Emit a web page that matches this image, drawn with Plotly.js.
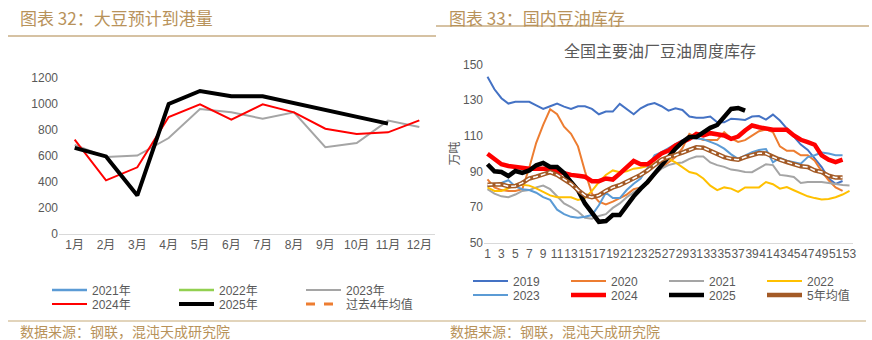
<!DOCTYPE html>
<html>
<head>
<meta charset="utf-8">
<script src="https://cdn.plot.ly/plotly-3.0.1.min.js"></script>
<style>html,body{margin:0;padding:0;background:#fff;}#chart{width:872px;height:340px;}</style>
</head>
<body>
<div id="chart"></div>
<script>
// ---- Left chart: 大豆预计到港量 (万吨) ----
const months = ['1月','2月','3月','4月','5月','6月','7月','8月','9月','10月','11月','12月'];
const arr2021L = [null,null,null,null,null,null,null,null,null,null,null,null];
const arr2022L = [null,null,null,null,null,null,null,null,null,null,null,null];
const arr2023L = [685,592,603,738,961,936,887,936,667,700,872,823];
const arr2024L = [726,413,513,900,997,879,997,936,810,769,782,874];
const arr2025L = [662,597,297,1000,1100,1059,1059,1008,956,905,849,null];
const avg4L   = [null,null,null,null,null,null,null,null,null,null,null,null];

// ---- Right chart: 全国主要油厂豆油周度库存 (万吨) ----
const weeks = [1,2,3,4,5,6,7,8,9,10,11,12,13,14,15,16,17,18,19,20,21,22,23,24,25,26,27,28,29,30,31,32,33,34,35,36,37,38,39,40,41,42,43,44,45,46,47,48,49,50,51,52,53];
const s2019 = [143,136,131,128,129,129,129,127,125,126.5,128,126.3,125,126.5,126.5,125,122,123.5,123.5,127.8,125,122,125.3,127.3,128.3,126.5,124,125.3,124.4,120.7,120,120,120.7,117.5,117.5,119.5,119.2,118.8,120.7,121,119,121.8,118.5,114,110,105,102,97,92.4,86,83,84.6];
const s2020 = [85.5,81,79.5,79,79,80,92,106,116,124.8,122,115,111,104,90,77.5,73,71.5,73,75,77,80,81,83,88,92,95,98,103,111,109,107.5,107.5,107.5,112,108.5,106.5,107.5,110,112.5,113.5,112,104,101.5,101.5,99,99,96,90,85,81,79];
const s2021 = [80,77.5,76,75.5,77,79,79.5,81,82,80,76,72,70,67.5,64,63.5,65,66,69.5,72,75.5,78,81,85,88.5,91.5,93.5,94.5,95,97,98.3,98.3,95,93.5,92.5,91,90.5,89.6,89.5,92,94,93.5,88,87.5,86.8,83.5,84,84,84,83.5,82.7,82.3,82.1];
const s2022 = [81,79,79,80.5,82.5,82.5,82,80.5,78.5,76.5,75.5,75.5,75.5,74,75,79,84,88,90.5,89.5,90,91.5,92,93,94.5,97,97,95,92.5,89.6,88.7,86,82,79.5,81,80.3,78.5,81,81,81,84,82.8,80.3,81.2,79.4,77.5,76,75,74.2,74.5,75.5,77,79];
const s2023 = [81.6,82.5,83.5,85,81.5,80,79.5,78,75.5,74,68.5,66,64.5,64,64.5,65.5,71,78,75,75,79.5,83,86,92,99,100.8,103,105.4,107.5,109,108.5,108,106.5,105,102.7,99.5,97,99,100.8,102,102.5,95,97.5,96,95,94.3,98,99,100.5,100,99,99];
const s2024 = [99.9,97,94,93,92.5,91.5,91.5,91.5,91.5,91.5,90,88.7,88,87.5,87,84.5,84.5,86,85.4,88.7,92.4,95.8,94,94,97,100,101.7,104.5,106.4,108.2,111,110.1,111.4,111,110.1,108.2,109.5,112.9,115.7,114.7,113.8,113.3,113.3,113.3,110.1,107.7,106.4,104.9,98.9,96.5,95.2,96.5];
const s2025 = [94,90,89.6,87.4,90.2,89.1,90.5,93.4,94.7,92.4,92.4,89.1,84,79.4,72,66.4,61.7,62.1,65.5,65.5,71,76,80.3,84,88.7,93.4,98.4,102.7,106.4,109.2,109.2,112,114.4,116,121,125,125.5,124];
const avg5 = [82.5,82.7,82.7,81.6,81.8,83.5,86,87,88.5,89.6,88,85.5,83,79.5,76.5,75.5,76.5,79,81,82.2,84,86,88,90.5,93.5,96.5,98,99,100.5,102,103.5,103.2,101.5,99.5,98,97,96.5,98,98.9,100.2,100,98,96.5,95.2,94,92.8,92.4,90.5,89.6,87.5,86.5,86.5];

const numFont = 'Liberation Sans, Arial, Noto Sans CJK SC, sans-serif';
const cjkFont = 'Noto Sans CJK SC, sans-serif';
const W = 872, H = 340;
const px = v => v / W;
const py = v => 1 - v / H;

function lineL(name, y, color, width, legend, dash) {
  return {type:'scatter', mode:'lines', name:name, x:months, y:y, xaxis:'x', yaxis:'y',
    line:{color:color, width:width, dash:dash||'solid'}, legend:legend, connectgaps:false, hoverinfo:'x+y+name'};
}
function lineR(name, y, color, width, legend) {
  return {type:'scatter', mode:'lines', name:name, x:weeks.slice(0, y.length), y:y, xaxis:'x2', yaxis:'y2',
    line:{color:color, width:width}, legend:legend, hoverinfo:'x+y+name'};
}

const traces = [
  lineL('2021年', arr2021L, '#5B9BD5', 2.5, 'legend'),
  lineL('2022年', arr2022L, '#92D050', 2.5, 'legend'),
  lineL('2023年', arr2023L, '#A5A5A5', 2, 'legend'),
  lineL('2024年', arr2024L, '#FF0000', 2, 'legend2'),
  lineL('2025年', arr2025L, '#000000', 4, 'legend2'),
  lineL('过去4年均值', avg4L, '#ED7D31', 3, 'legend2', 'dash'),

  lineR('2019', s2019, '#4472C4', 2, 'legend3'),
  lineR('2020', s2020, '#ED7D31', 2, 'legend3'),
  lineR('2021', s2021, '#A5A5A5', 2, 'legend3'),
  lineR('2022', s2022, '#FFC000', 2, 'legend3'),
  lineR('2023', s2023, '#5B9BD5', 2, 'legend4'),
  lineR('2024', s2024, '#FF0000', 4.5, 'legend4'),
  lineR('2025', s2025, '#000000', 4.5, 'legend4'),
  lineR('5年均值', avg5, '#A35A26', 4.5, 'legend4'),
  {type:'scatter', mode:'lines', x:weeks.slice(0, avg5.length), y:avg5, xaxis:'x2', yaxis:'y2',
   line:{color:'#FFFFFF', width:1.5, dash:'5px,3px'}, showlegend:false, hoverinfo:'skip'}
];

const legendBase = {orientation:'h', xanchor:'left', yanchor:'middle', bgcolor:'rgba(0,0,0,0)',
  font:{family:numFont, size:12, color:'#595959'}, itemwidth:35, entrywidthmode:'pixels', traceorder:'normal',
  itemclick:false, itemdoubleclick:false, tracegroupgap:0};

const layout = {
  width:W, height:H, margin:{l:0, r:0, t:0, b:0, autoexpand:false},
  paper_bgcolor:'#FFFFFF', plot_bgcolor:'#FFFFFF',
  font:{family:numFont, color:'#595959', size:12},
  xaxis:{domain:[px(59), px(435)], anchor:'y', type:'category', range:[-0.5, 11.5],
    showline:true, linecolor:'#D9D9D9', linewidth:1, showgrid:false, zeroline:false, ticks:'',
    tickfont:{family:numFont, size:12, color:'#595959'}, fixedrange:true, automargin:false},
  yaxis:{domain:[py(234), py(78)], anchor:'x', range:[0, 1200], dtick:200, tick0:0,
    showline:false, showgrid:false, zeroline:false, ticks:'',
    tickfont:{family:numFont, size:12, color:'#595959'}, fixedrange:true, automargin:false},
  xaxis2:{domain:[px(484), px(853)], anchor:'y2', range:[0.5, 53.5], tick0:1, dtick:2, tickangle:0,
    showline:true, linecolor:'#D9D9D9', linewidth:1, showgrid:false, zeroline:false, ticks:'',
    tickfont:{family:numFont, size:12, color:'#595959'}, fixedrange:true, automargin:false},
  yaxis2:{domain:[py(242.7), py(64.3)], anchor:'x2', range:[50, 150], dtick:20, tick0:50,
    showline:false, showgrid:false, zeroline:false, ticks:'',
    title:{text:'万吨', font:{family:cjkFont, size:12, color:'#595959'}, standoff:0},
    tickfont:{family:numFont, size:12, color:'#595959'}, fixedrange:true, automargin:false},
  legend:Object.assign({}, legendBase, {x:px(47), y:py(290), entrywidth:77}),
  legend2:Object.assign({}, legendBase, {x:px(47), y:py(304), entrywidth:77}),
  legend3:Object.assign({}, legendBase, {x:px(468), y:py(281), entrywidth:48}),
  legend4:Object.assign({}, legendBase, {x:px(468), y:py(295), entrywidth:48}),
  shapes:[
    {type:'line', xref:'paper', yref:'paper', x0:px(8), x1:px(436), y0:py(36), y1:py(36), line:{color:'#C8AE84', width:1.5}},
    {type:'line', xref:'paper', yref:'paper', x0:px(436), x1:px(869), y0:py(26), y1:py(26), line:{color:'#C8AE84', width:1.5}},
    {type:'line', xref:'paper', yref:'paper', x0:px(8), x1:px(866), y0:py(321), y1:py(321), line:{color:'#D9C6A5', width:1.5}}
  ],
  annotations:[
    {xref:'paper', yref:'paper', x:px(18), y:py(17), xanchor:'left', yanchor:'middle', showarrow:false,
     text:'图表 32：大豆预计到港量', font:{family:cjkFont, size:17, color:'#B8925A'}},
    {xref:'paper', yref:'paper', x:px(447), y:py(17), xanchor:'left', yanchor:'middle', showarrow:false,
     text:'图表 33：国内豆油库存', font:{family:cjkFont, size:17, color:'#B8925A'}},
    {xref:'paper', yref:'paper', x:px(660), y:py(50), xanchor:'center', yanchor:'middle', showarrow:false,
     text:'全国主要油厂豆油周度库存', font:{family:cjkFont, size:16, color:'#595959'}},
    {xref:'paper', yref:'paper', x:px(18), y:py(331), xanchor:'left', yanchor:'middle', showarrow:false,
     text:'数据来源：钢联，混沌天成研究院', font:{family:cjkFont, size:14, color:'#B8925A'}},
    {xref:'paper', yref:'paper', x:px(448), y:py(331), xanchor:'left', yanchor:'middle', showarrow:false,
     text:'数据来源：钢联，混沌天成研究院', font:{family:cjkFont, size:14, color:'#B8925A'}}
  ]
};

Plotly.newPlot('chart', traces, layout, {displayModeBar:false, staticPlot:false, responsive:false});
</script>
</body>
</html>
